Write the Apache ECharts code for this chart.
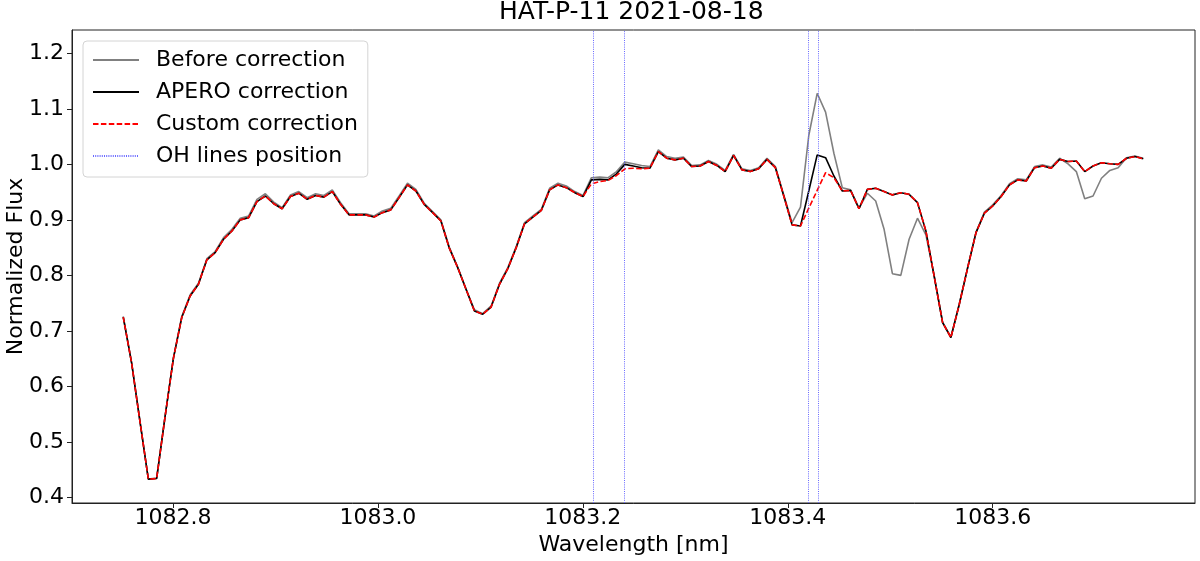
<!DOCTYPE html>
<html>
<head>
<meta charset="utf-8">
<script src="https://cdn.jsdelivr.net/npm/echarts@6/dist/echarts.min.js"></script>
<style>
  html, body { margin: 0; padding: 0; background: #fff; }
  #chart { width: 1200px; height: 561px; }
</style>
</head>
<body>
<div id="chart"></div>
<script>
// wavelength grid [nm]
var wavelength = [
  1082.7515, 1082.7597, 1082.7678, 1082.7760, 1082.7841, 1082.7923, 1082.8005, 1082.8086, 1082.8168, 1082.8249,
  1082.8331, 1082.8412, 1082.8494, 1082.8576, 1082.8657, 1082.8739, 1082.8820, 1082.8902, 1082.8984, 1082.9065,
  1082.9147, 1082.9228, 1082.9310, 1082.9392, 1082.9473, 1082.9555, 1082.9636, 1082.9718, 1082.9800, 1082.9881,
  1082.9963, 1083.0044, 1083.0126, 1083.0207, 1083.0289, 1083.0371, 1083.0452, 1083.0534, 1083.0615, 1083.0697,
  1083.0779, 1083.0860, 1083.0942, 1083.1023, 1083.1105, 1083.1187, 1083.1268, 1083.1350, 1083.1431, 1083.1513,
  1083.1595, 1083.1676, 1083.1758, 1083.1839, 1083.1921, 1083.2002, 1083.2084, 1083.2166, 1083.2247, 1083.2329,
  1083.2410, 1083.2492, 1083.2574, 1083.2655, 1083.2737, 1083.2818, 1083.2900, 1083.2982, 1083.3063, 1083.3145,
  1083.3226, 1083.3308, 1083.3389, 1083.3471, 1083.3553, 1083.3634, 1083.3716, 1083.3797, 1083.3879, 1083.3961,
  1083.4042, 1083.4124, 1083.4205, 1083.4287, 1083.4369, 1083.4450, 1083.4532, 1083.4613, 1083.4695, 1083.4777,
  1083.4858, 1083.4940, 1083.5021, 1083.5103, 1083.5184, 1083.5266, 1083.5348, 1083.5429, 1083.5511, 1083.5592,
  1083.5674, 1083.5756, 1083.5837, 1083.5919, 1083.6000, 1083.6082, 1083.6164, 1083.6245, 1083.6327, 1083.6408,
  1083.6490, 1083.6571, 1083.6653, 1083.6735, 1083.6816, 1083.6898, 1083.6979, 1083.7061, 1083.7143, 1083.7224,
  1083.7306, 1083.7387, 1083.7469
];

// flux before telluric correction
var beforeFlux = [
  0.726, 0.643, 0.538, 0.433, 0.435, 0.546, 0.652, 0.726, 0.765, 0.786,
  0.830, 0.843, 0.868, 0.883, 0.903, 0.907, 0.937, 0.947, 0.932, 0.922,
  0.945, 0.951, 0.940, 0.947, 0.944, 0.954, 0.931, 0.911, 0.911, 0.911,
  0.907, 0.916, 0.921, 0.943, 0.966, 0.955, 0.930, 0.915, 0.900, 0.851,
  0.815, 0.776, 0.738, 0.731, 0.745, 0.786, 0.814, 0.852, 0.895, 0.907,
  0.919, 0.957, 0.966, 0.961, 0.951, 0.944, 0.976, 0.977, 0.976, 0.987,
  1.004, 1.001, 0.998, 0.996, 1.026, 1.014, 1.011, 1.013, 0.998, 0.999,
  1.007, 1.000, 0.989, 1.018, 0.992, 0.989, 0.994, 1.011, 0.996, 0.945,
  0.895, 0.923, 1.052, 1.128, 1.094, 1.020, 0.958, 0.954, 0.921, 0.948,
  0.934, 0.883, 0.803, 0.800, 0.865, 0.903, 0.873, 0.799, 0.716, 0.689,
  0.749, 0.815, 0.878, 0.914, 0.927, 0.944, 0.965, 0.974, 0.972, 0.996,
  0.999, 0.995, 1.011, 1.001, 0.987, 0.938, 0.943, 0.975, 0.989, 0.994,
  1.012, 1.015, 1.011
];

// APERO pipeline correction
var aperoFlux = [
  0.725, 0.642, 0.537, 0.433, 0.434, 0.545, 0.651, 0.724, 0.763, 0.784,
  0.828, 0.841, 0.865, 0.880, 0.900, 0.904, 0.933, 0.943, 0.929, 0.920,
  0.942, 0.948, 0.937, 0.944, 0.941, 0.951, 0.928, 0.909, 0.909, 0.909,
  0.905, 0.913, 0.918, 0.940, 0.963, 0.952, 0.928, 0.913, 0.898, 0.849,
  0.814, 0.775, 0.736, 0.730, 0.743, 0.784, 0.812, 0.850, 0.893, 0.905,
  0.917, 0.954, 0.963, 0.958, 0.949, 0.942, 0.972, 0.973, 0.972, 0.983,
  1.000, 0.997, 0.994, 0.993, 1.023, 1.011, 1.008, 1.011, 0.996, 0.997,
  1.005, 0.998, 0.987, 1.016, 0.990, 0.987, 0.992, 1.009, 0.994, 0.943,
  0.891, 0.889, 0.952, 1.017, 1.012, 0.979, 0.952, 0.953, 0.920, 0.955,
  0.957, 0.951, 0.945, 0.949, 0.946, 0.931, 0.880, 0.798, 0.715, 0.688,
  0.748, 0.814, 0.877, 0.912, 0.925, 0.942, 0.963, 0.972, 0.970, 0.994,
  0.997, 0.993, 1.009, 1.005, 1.006, 0.987, 0.997, 1.003, 1.001, 1.000,
  1.011, 1.014, 1.010
];

// custom correction
var customFlux = [
  0.725, 0.642, 0.537, 0.433, 0.434, 0.545, 0.651, 0.724, 0.763, 0.784,
  0.828, 0.841, 0.865, 0.880, 0.900, 0.904, 0.933, 0.943, 0.929, 0.920,
  0.942, 0.948, 0.937, 0.944, 0.941, 0.951, 0.928, 0.909, 0.909, 0.909,
  0.905, 0.913, 0.918, 0.940, 0.963, 0.952, 0.928, 0.913, 0.898, 0.849,
  0.814, 0.775, 0.736, 0.730, 0.743, 0.784, 0.812, 0.850, 0.893, 0.905,
  0.917, 0.954, 0.963, 0.958, 0.949, 0.942, 0.965, 0.969, 0.971, 0.980,
  0.992, 0.993, 0.992, 0.993, 1.023, 1.011, 1.008, 1.011, 0.996, 0.997,
  1.005, 0.998, 0.987, 1.016, 0.990, 0.987, 0.992, 1.009, 0.994, 0.943,
  0.891, 0.889, 0.921, 0.953, 0.985, 0.976, 0.952, 0.953, 0.920, 0.955,
  0.957, 0.951, 0.945, 0.949, 0.946, 0.931, 0.880, 0.798, 0.715, 0.688,
  0.748, 0.814, 0.877, 0.912, 0.925, 0.942, 0.963, 0.972, 0.970, 0.994,
  0.997, 0.993, 1.009, 1.005, 1.006, 0.987, 0.997, 1.003, 1.001, 1.000,
  1.011, 1.014, 1.010
];

var ohLines = [1083.2103, 1083.2420, 1083.4250, 1083.4338];

var xTicks = [1082.8, 1083.0, 1083.2, 1083.4, 1083.6];
var yTicks = [0.4, 0.5, 0.6, 0.7, 0.8, 0.9, 1.0, 1.1, 1.2];

function pairs(xs, ys) {
  return xs.map(function (x, i) { return [x, ys[i]]; });
}

var font = 'DejaVu Sans';
var chart = echarts.init(document.getElementById('chart'), null, { renderer: 'canvas' });

chart.setOption({
  animation: false,
  backgroundColor: '#fff',
  textStyle: { fontFamily: font, color: '#000' },
  title: {
    text: 'HAT-P-11 2021-08-18',
    left: 499,
    top: 0,
    padding: 0,
    textStyle: { fontFamily: font, fontSize: 25, fontWeight: 'normal', color: '#000' }
  },
  grid: {
    left: 72, right: 5, top: 30, bottom: 58,
    outerBoundsMode: 'none',
    containLabel: false,
    show: true, borderColor: '#222', borderWidth: 1, backgroundColor: 'transparent'
  },
  legend: {
    orient: 'vertical',
    left: 83, top: 41,
    padding: [8, 10, 10, 9],
    itemWidth: 46, itemHeight: 14, itemGap: 10,
    backgroundColor: 'rgba(255,255,255,0.8)',
    borderColor: '#d4d4d4', borderWidth: 1, borderRadius: 4,
    selectedMode: false,
    itemStyle: { opacity: 0 },
    textStyle: { fontFamily: font, fontSize: 22, color: '#000', lineHeight: 22, padding: [0, 0, 0, 12] },
    data: ['Before correction', 'APERO correction', 'Custom correction', 'OH lines position']
  },
  xAxis: {
    type: 'value',
    min: 1082.7015, max: 1083.7974,
    name: 'Wavelength [nm]',
    nameLocation: 'middle', nameGap: 31,
    nameMoveOverlap: false,
    nameTextStyle: { fontFamily: font, fontSize: 22, color: '#000' },
    splitLine: { show: false },
    axisLine: { show: true, lineStyle: { color: '#222', width: 1 } },
    axisTick: { show: true, length: 5, lineStyle: { color: '#222' }, customValues: xTicks },
    axisLabel: {
      fontFamily: font, fontSize: 22, color: '#000', margin: 4,
      customValues: xTicks,
      formatter: function (v) { return v.toFixed(1); }
    }
  },
  yAxis: {
    type: 'value',
    min: 0.390, max: 1.242,
    name: 'Normalized Flux',
    nameLocation: 'middle', nameGap: 45,
    nameMoveOverlap: false,
    nameTextStyle: { fontFamily: font, fontSize: 22, color: '#000' },
    splitLine: { show: false },
    axisLine: { show: true, lineStyle: { color: '#222', width: 1 } },
    axisTick: { show: true, length: 5, lineStyle: { color: '#222' }, customValues: yTicks },
    axisLabel: {
      fontFamily: font, fontSize: 22, color: '#000', margin: 8,
      customValues: yTicks,
      formatter: function (v) { return v.toFixed(1); }
    }
  },
  series: [
    {
      name: 'Before correction',
      type: 'line',
      data: pairs(wavelength, beforeFlux),
      symbol: 'none',
      color: '#808080',
      lineStyle: { color: '#808080', width: 1.6 },
      z: 2
    },
    {
      name: 'APERO correction',
      type: 'line',
      data: pairs(wavelength, aperoFlux),
      symbol: 'none',
      color: '#000',
      lineStyle: { color: '#000', width: 1.6 },
      z: 3
    },
    {
      name: 'Custom correction',
      type: 'line',
      data: pairs(wavelength, customFlux),
      symbol: 'none',
      color: '#ff0000',
      lineStyle: { color: '#ff0000', width: 1.6, type: [5.5, 2.4] },
      z: 4
    },
    {
      name: 'OH lines position',
      type: 'line',
      data: [],
      symbol: 'none',
      color: '#6a6aff',
      lineStyle: { color: '#6a6aff', width: 1, type: [1, 1.2] },
      z: 5,
      markLine: {
        silent: true,
        symbol: ['none', 'none'],
        label: { show: false },
        lineStyle: { color: '#6a6aff', width: 1, type: [1, 1.2] },
        data: ohLines.map(function (x) { return { xAxis: x }; })
      }
    }
  ]
});
</script>
</body>
</html>
